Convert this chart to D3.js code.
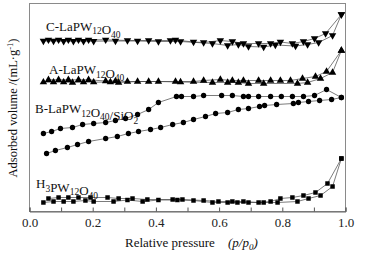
<!DOCTYPE html>
<html><head><meta charset="utf-8">
<script src="https://cdn.jsdelivr.net/npm/d3@7"></script>
<style>
html,body{margin:0;padding:0;background:#fff;}
svg{display:block;font-family:"Liberation Serif","Times New Roman",serif;}
</style></head>
<body><svg id="c" width="369" height="255"></svg>
<script>
// Relative pressure p/p0 and adsorbed volume (arbitrary units, curves offset)
const xTicks = [0,0.1,0.2,0.3,0.4,0.5,0.6,0.7,0.8,0.9,1.0];
const xTickLabels = ["0.0","","0.2","","0.4","","0.6","","0.8","","1.0"];

const cAdsP = [0.044,0.076,0.108,0.139,0.171,0.203,0.272,0.342,0.408,0.478,0.579,0.627,0.661,0.693,0.741,0.778,0.842,0.880,0.915,0.959,0.987];
const cAdsV = [170.5,170.5,170.3,170.3,170.3,170.3,170.5,170.5,170,170,168,166,167,165,164.5,166.5,165.5,167,169,176,197];
const cDesP = [0.987,0.937,0.902,0.867,0.832,0.794,0.763,0.725,0.677,0.642,0.604,0.551,0.519,0.462,0.446,0.377,0.310,0.241,0.187,0.155,0.123,0.092,0.060];
const cDesV = [197,178,173,170,168,169.5,168,168,168,170,171,169,169.5,171.5,171,171,171,171.7,171.7,171.7,171.7,171.7,171.7];

const aAdsP = [0.044,0.076,0.108,0.136,0.171,0.203,0.256,0.282,0.342,0.408,0.478,0.579,0.627,0.661,0.693,0.741,0.848,0.880,0.921,0.959,0.987];
const aAdsV = [129.3,129.3,129.3,129,129.3,129.3,129.5,129,130,130,129.5,129,129,129,128,128,128,129,133,139,161];
const aDesP = [0.987,0.940,0.905,0.864,0.826,0.794,0.763,0.725,0.677,0.642,0.604,0.551,0.519,0.462,0.377,0.310,0.272,0.241,0.187,0.155,0.123,0.092,0.060];
const aDesV = [161,140,135,133,131,131,131,131,131,131,132,131,130,130,130,130,130.5,130.5,131.7,131.7,131.7,131.7,131.7];

const bAdsP = [0.054,0.082,0.120,0.152,0.187,0.241,0.278,0.313,0.345,0.383,0.415,0.453,0.487,0.519,0.557,0.589,0.627,0.661,0.693,0.728,0.744,0.782,0.835,0.851,0.883,0.918,0.956,0.987];
const bAdsV = [58,61,64,67,70,73,75,78,80,82,84,87,89,92,95,98,99,102,103,105,106,107,108,109,110,111,112,114];
const bDesP = [0.987,0.940,0.902,0.867,0.832,0.797,0.763,0.725,0.693,0.677,0.642,0.608,0.551,0.519,0.481,0.465,0.408,0.377,0.342,0.304,0.272,0.241,0.203,0.168,0.136,0.098,0.070,0.044];
const bDesV = [114,122,116,115,115,115,115,115,115,115,116,116,116,115,115,115,109,102,97,93,91,89,88,87,84,83,80,78];

const hAdsP = [0.044,0.076,0.108,0.139,0.177,0.203,0.266,0.310,0.358,0.408,0.468,0.519,0.579,0.627,0.658,0.693,0.741,0.785,0.848,0.883,0.921,0.959,0.987];
const hAdsV = [9,10,10,10,11,10,10,11.5,10,11.5,11.5,11,9,9,9,9,9,9,10,13,16,25,53];
const hDesP = [0.987,0.943,0.905,0.867,0.832,0.794,0.763,0.725,0.677,0.642,0.598,0.551,0.484,0.453,0.373,0.326,0.282,0.247,0.193,0.155,0.123,0.092,0.060];
const hDesV = [53,28,19,16,14,13,10,9,10,10,10,11,12,12,12,13,13,14,14,14,14,14,13];

const seriesNames = ["C-LaPW12O40","A-LaPW12O40","B-LaPW12O40/SiO2","H3PW12O40"];

const svg = d3.select("#c");
const L = 29.5, R = 345.5, T = 3.5, B = 211.5;
const x = d3.scaleLinear().domain([0,1]).range([L,R]);
const y = d3.scaleLinear().domain([0,208]).range([B,T]);

// frame
svg.append("rect").attr("x",L).attr("y",T).attr("width",R-L).attr("height",B-T)
  .attr("fill","none").attr("stroke","#8a8a8a").attr("stroke-width",1);

// x axis
const ax = svg.append("g").attr("transform",`translate(0,${B})`)
  .call(d3.axisBottom(x).tickValues(xTicks).tickSize(-4).tickPadding(6)
    .tickFormat((d,i)=>xTickLabels[i]));
ax.select(".domain").attr("stroke","#666");
ax.selectAll(".tick line").attr("stroke","#555");
ax.selectAll(".tick text").attr("font-size",13).attr("fill","#222")
  .attr("font-family","Liberation Serif, serif");

const zip = (P,V)=>P.map((p,i)=>[p,V[i]]);
const line = d3.line().x(d=>x(d[0])).y(d=>y(d[1]));

const sets = [
  {ads:zip(cAdsP,cAdsV),des:zip(cDesP,cDesV),sym:d3.symbolTriangle,size:24,rot:180},
  {ads:zip(aAdsP,aAdsV),des:zip(aDesP,aDesV),sym:d3.symbolTriangle,size:24,rot:0},
  {ads:zip(bAdsP,bAdsV),des:zip(bDesP,bDesV),sym:d3.symbolCircle,size:22,rot:0},
  {ads:zip(hAdsP,hAdsV),des:zip(hDesP,hDesV),sym:d3.symbolSquare,size:20,rot:0},
];
sets.forEach(s=>{
  [s.ads,s.des].forEach(pts=>{
    svg.append("path").attr("d",line(pts)).attr("fill","none")
      .attr("stroke","#444").attr("stroke-width",0.7);
  });
  const sy = d3.symbol().type(s.sym).size(s.size);
  svg.append("g").selectAll("path").data(s.ads.concat(s.des)).join("path")
    .attr("d",sy)
    .attr("transform",d=>`translate(${x(d[0])},${y(d[1])}) rotate(${s.rot})`)
    .attr("fill","#000");
});

// series labels with subscripts
function label(xp, yp, parts){
  const t = svg.append("text").attr("x",xp).attr("y",yp).attr("font-size",13).attr("fill","#111");
  parts.forEach(p=>{
    if(p.sub){
      t.append("tspan").attr("dy",3.5).attr("font-size",9.5).text(p.t);
      t.append("tspan").attr("dy",-3.5).text("");
    } else t.append("tspan").text(p.t);
  });
}
label(46,30.5,[{t:"C-LaPW"},{t:"12",sub:1},{t:"O"},{t:"40",sub:1}]);
label(49,74,[{t:"A-LaPW"},{t:"12",sub:1},{t:"O"},{t:"40",sub:1}]);
label(35,113,[{t:"B-LaPW"},{t:"12",sub:1},{t:"O"},{t:"40",sub:1},{t:"/SiO"},{t:"2",sub:1}]);
label(36,188,[{t:"H"},{t:"3",sub:1},{t:"PW"},{t:"12",sub:1},{t:"O"},{t:"40",sub:1}]);

// axis titles
const xt = svg.append("text").attr("x",125).attr("y",247).attr("font-size",13).attr("fill","#111");
xt.append("tspan").text("Relative pressure");
xt.append("tspan").attr("x",228).attr("font-style","italic").text("(p/p");
xt.append("tspan").attr("dy",3).attr("font-size",9).attr("font-style","italic").text("0");
xt.append("tspan").attr("dy",-3).attr("font-style","italic").text(")");

const yt = svg.append("text").attr("transform","translate(17,108) rotate(-90)")
  .attr("text-anchor","middle").attr("font-size",12.5).attr("fill","#111");
yt.append("tspan").text("Adsorbed volume /(mL·g");
yt.append("tspan").attr("dy",-4).attr("font-size",8.5).text("-1");
yt.append("tspan").attr("dy",4).text(")");
</script></body></html>
